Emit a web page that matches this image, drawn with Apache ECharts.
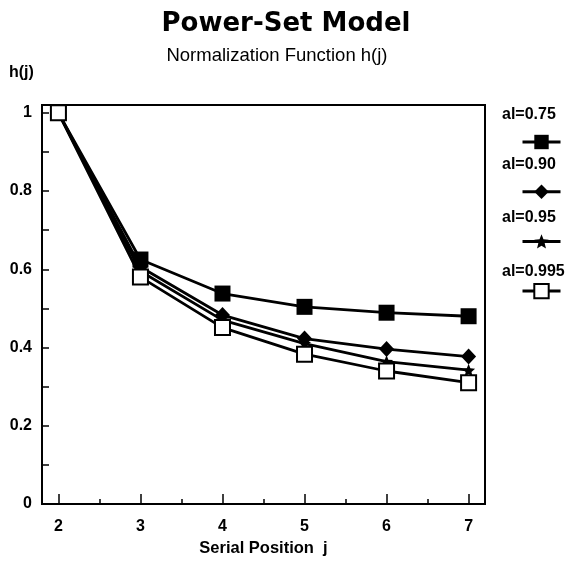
<!DOCTYPE html>
<html>
<head>
<meta charset="utf-8">
<script src="https://cdn.jsdelivr.net/npm/echarts@6/dist/echarts.min.js"></script>
<style>
html,body{margin:0;padding:0;background:#fff;}
#chart{width:571px;height:562px;}
</style>
</head>
<body>
<div id="chart"></div>
<script>
var positions = [2, 3, 4, 5, 6, 7];
var seriesNames = ['al=0.75', 'al=0.90', 'al=0.95', 'al=0.995'];
var h075  = [1.0, 0.625, 0.538, 0.504, 0.489, 0.480];
var h090  = [1.0, 0.606, 0.483, 0.423, 0.396, 0.377];
var h095  = [1.0, 0.595, 0.470, 0.410, 0.364, 0.342];
var h0995 = [1.0, 0.580, 0.451, 0.383, 0.340, 0.310];
var xTickLabels = [2, 3, 4, 5, 6, 7];
var xMinorTicks = [2.5, 3.5, 4.5, 5.5, 6.5];
var yTickLabels = [0, 0.2, 0.4, 0.6, 0.8, 1];

function pairs(vals) {
  return positions.map(function (p, i) { return [p, vals[i]]; });
}

var FONT = 'Liberation Sans, Arial, sans-serif';
var starPath = 'path://M0,-10 L2.6,-3.6 L9.5,-3.1 L4.2,1.4 L5.9,8.1 L0,4.4 L-5.9,8.1 L-4.2,1.4 L-9.5,-3.1 L-2.6,-3.6 Z';

var chart = echarts.init(document.getElementById('chart'), null, {renderer: 'canvas'});

function mkSeries(name, vals, symbol, size, fill) {
  return {
    name: name,
    type: 'line',
    data: pairs(vals),
    symbol: symbol,
    symbolSize: size,
    showAllSymbol: true,
    lineStyle: {color: '#000', width: 2.8},
    itemStyle: {color: fill, borderColor: '#000', borderWidth: fill === '#fff' ? 2 : 0},
    emphasis: {disabled: true},
    animation: false,
    z: 3
  };
}

var legendTop = [107, 157, 210, 264];

chart.setOption({
  animation: false,
  backgroundColor: '#fff',
  title: [
    {text: 'Power-Set Model', left: 281, top: 6, textAlign: 'center',
     textStyle: {fontFamily: 'DejaVu Sans, sans-serif', fontWeight: 'bold', fontSize: 26, color: '#000'}},
    {text: 'Normalization Function h(j)', left: 272, top: 41, textAlign: 'center',
     textStyle: {fontFamily: FONT, fontWeight: 'normal', fontSize: 18.5, color: '#000'}}
  ],
  grid: {left: 42, right: 86, top: 105, bottom: 57, show: true, borderColor: '#000', borderWidth: 2, backgroundColor: 'transparent'},
  legend: {
    orient: 'vertical', left: 516, top: 128,
    itemWidth: 38, itemHeight: 18, itemGap: 33.5,
    data: seriesNames,
    formatter: function () { return ''; },
    textStyle: {fontSize: 1},
    lineStyle: {width: 3},
    selectedMode: false
  },
  graphic: seriesNames.map(function (n, i) {
    return {type: 'text', left: 502, top: legendTop[i],
      style: {text: n, font: 'bold 16px ' + FONT, fill: '#000'}};
  }),
  xAxis: [{
    type: 'value', min: 1.8, max: 7.2,
    name: 'Serial Position  j', nameLocation: 'middle', nameGap: 36,
    nameTextStyle: {fontFamily: FONT, fontWeight: 'bold', fontSize: 16.5, color: '#000'},
    axisLine: {lineStyle: {color: '#000', width: 2}},
    axisTick: {inside: true, length: 10, lineStyle: {color: '#000', width: 1.5}, customValues: xTickLabels},
    axisLabel: {customValues: xTickLabels, fontFamily: FONT, fontWeight: 'bold', fontSize: 16, color: '#000', margin: 15},
    splitLine: {show: false}
  }, {
    type: 'value', min: 1.8, max: 7.2, position: 'bottom',
    axisLine: {show: false},
    axisTick: {inside: true, length: 5, lineStyle: {color: '#000', width: 1.5}, customValues: xMinorTicks},
    axisLabel: {show: false},
    splitLine: {show: false}
  }],
  yAxis: {
    type: 'value', min: 0, max: 1.02, interval: 0.1,
    name: 'h(j)', nameLocation: 'end', nameGap: 24,
    nameTextStyle: {fontFamily: FONT, fontWeight: 'bold', fontSize: 16, color: '#000', align: 'left', padding: [0, 0, 0, -33]},
    axisLine: {lineStyle: {color: '#000', width: 2}},
    axisTick: {inside: true, length: 7, lineStyle: {color: '#000', width: 1.5}},
    axisLabel: {
      fontFamily: FONT, fontWeight: 'bold', fontSize: 16, color: '#000', margin: 10,
      formatter: function (v) {
        var k = Math.round(v * 10);
        if (Math.abs(v * 10 - k) > 1e-6 || k % 2 !== 0) return '';
        return String(yTickLabels[k / 2]);
      }
    },
    splitLine: {show: false}
  },
  series: [
    mkSeries(seriesNames[0], h075, 'rect', 16, '#000'),
    mkSeries(seriesNames[1], h090, 'diamond', [15, 16], '#000'),
    mkSeries(seriesNames[2], h095, starPath, 13, '#000'),
    mkSeries(seriesNames[3], h0995, 'rect', 15, '#fff')
  ]
});
</script>
</body>
</html>
